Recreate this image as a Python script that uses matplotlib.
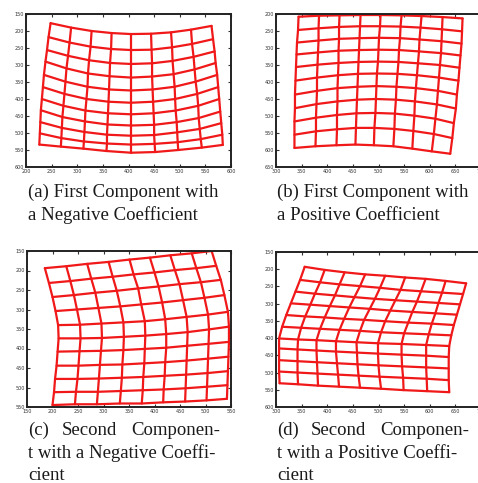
import matplotlib

matplotlib.use("Agg")
import matplotlib.pyplot as plt
import numpy as np

# node positions of the four warped grids (rows of 9 nodes, 11 rows)
a_x = [
    [248, 288, 328, 367, 405, 444, 483, 522, 562],
    [244, 285, 326, 366, 405, 445, 485, 524, 565],
    [241, 282, 323, 364, 405, 446, 486, 527, 568],
    [238, 279, 321, 363, 405, 446, 488, 529, 570],
    [235, 277, 320, 362, 405, 447, 490, 531, 573],
    [233, 275, 318, 361, 405, 448, 491, 534, 575],
    [231, 273, 316, 360, 405, 449, 492, 536, 577],
    [229, 271, 315, 359, 405, 450, 494, 537, 579],
    [228, 270, 314, 358, 405, 450, 495, 539, 581],
    [227, 269, 313, 358, 405, 451, 496, 541, 583],
    [226, 268, 312, 357, 405, 452, 497, 543, 584],
]
a_y = [
    [177, 190, 200, 206, 209, 208, 204, 196, 185],
    [218, 234, 246, 253, 256, 255, 248, 238, 224],
    [256, 273, 286, 294, 297, 295, 288, 276, 260],
    [290, 310, 325, 333, 337, 334, 327, 313, 294],
    [329, 349, 364, 372, 375, 372, 364, 349, 329],
    [365, 385, 400, 408, 411, 408, 400, 385, 365],
    [400, 420, 434, 442, 445, 442, 434, 420, 400],
    [433, 453, 466, 475, 478, 476, 468, 456, 437],
    [468, 485, 497, 505, 508, 506, 498, 488, 471],
    [501, 515, 525, 531, 534, 532, 527, 518, 505],
    [534, 540, 546, 553, 558, 556, 550, 543, 535],
]

b_x = [
    [344, 384, 424, 465, 504, 545, 584, 625, 664],
    [343, 383, 423, 464, 503, 543, 582, 624, 663],
    [341, 383, 423, 463, 501, 542, 580, 623, 662],
    [340, 382, 422, 462, 500, 540, 579, 622, 660],
    [339, 381, 422, 461, 499, 539, 577, 620, 658],
    [338, 380, 421, 460, 497, 537, 575, 618, 656],
    [337, 380, 420, 459, 496, 535, 573, 616, 653],
    [337, 379, 420, 458, 495, 534, 571, 614, 651],
    [336, 378, 419, 457, 494, 532, 570, 611, 647],
    [336, 378, 419, 456, 492, 531, 568, 608, 644],
    [336, 377, 418, 455, 491, 529, 566, 604, 640],
]
b_y = [
    [208, 205, 204, 203, 203, 204, 206, 209, 213],
    [247, 242, 238, 236, 236, 237, 240, 245, 251],
    [284, 278, 273, 271, 270, 271, 275, 280, 287],
    [319, 313, 308, 306, 305, 306, 310, 315, 322],
    [356, 349, 344, 341, 340, 341, 345, 350, 358],
    [396, 387, 380, 376, 375, 376, 380, 387, 396],
    [437, 426, 418, 414, 412, 414, 418, 426, 437],
    [477, 465, 457, 452, 450, 452, 457, 466, 478],
    [516, 505, 497, 492, 491, 493, 499, 508, 521],
    [555, 545, 539, 535, 535, 538, 544, 553, 565],
    [594, 589, 586, 584, 586, 589, 596, 604, 611],
]

c_x = [
    [185, 227, 268, 310, 351, 391, 431, 473, 512],
    [193, 235, 276, 318, 359, 400, 440, 482, 521],
    [200, 242, 284, 326, 368, 408, 449, 491, 530],
    [206, 248, 290, 333, 374, 415, 456, 498, 537],
    [211, 254, 296, 339, 381, 421, 463, 505, 544],
    [212, 255, 297, 340, 382, 423, 465, 507, 546],
    [210, 253, 295, 339, 381, 423, 464, 506, 546],
    [208, 251, 293, 337, 380, 421, 463, 505, 545],
    [205, 249, 291, 336, 378, 420, 462, 504, 544],
    [203, 246, 289, 334, 377, 418, 461, 503, 543],
    [200, 244, 287, 332, 375, 417, 460, 502, 542],
]
c_y = [
    [194, 189, 183, 178, 172, 167, 161, 156, 150],
    [232, 227, 221, 216, 210, 205, 199, 194, 188],
    [268, 263, 257, 252, 246, 241, 235, 230, 224],
    [304, 300, 296, 292, 287, 282, 276, 270, 263],
    [340, 339, 336, 333, 330, 325, 319, 313, 306],
    [374, 374, 373, 370, 367, 363, 358, 351, 344],
    [408, 407, 406, 404, 401, 398, 393, 388, 383],
    [444, 444, 442, 441, 438, 435, 431, 426, 421],
    [478, 478, 477, 475, 473, 470, 467, 463, 458],
    [512, 511, 511, 509, 507, 505, 502, 498, 494],
    [545, 543, 543, 541, 541, 538, 536, 533, 529],
]

d_x = [
    [356, 395, 434, 474, 513, 552, 592, 631, 671],
    [347, 386, 424, 464, 503, 543, 583, 624, 665],
    [338, 376, 415, 453, 493, 533, 575, 617, 659],
    [329, 367, 405, 443, 483, 523, 566, 611, 653],
    [320, 357, 395, 433, 472, 513, 558, 604, 647],
    [312, 349, 386, 424, 464, 505, 550, 598, 642],
    [306, 343, 379, 417, 457, 499, 545, 593, 638],
    [306, 342, 379, 417, 458, 499, 545, 593, 637],
    [306, 342, 380, 419, 459, 500, 546, 593, 637],
    [306, 342, 381, 421, 461, 502, 548, 594, 637],
    [307, 343, 382, 423, 464, 505, 549, 595, 638],
]
d_y = [
    [193, 202, 209, 215, 219, 224, 228, 234, 241],
    [231, 238, 244, 249, 254, 260, 264, 268, 272],
    [265, 271, 276, 281, 286, 290, 294, 298, 302],
    [299, 303, 307, 311, 315, 320, 324, 328, 332],
    [333, 337, 340, 344, 347, 351, 355, 358, 362],
    [367, 370, 373, 376, 379, 383, 386, 389, 392],
    [401, 404, 406, 409, 412, 415, 417, 420, 423],
    [430, 433, 436, 439, 442, 445, 448, 451, 455],
    [464, 467, 470, 473, 476, 479, 482, 485, 488],
    [497, 500, 503, 506, 509, 512, 515, 518, 522],
    [531, 534, 538, 541, 544, 547, 551, 554, 557],
]

# axis ticks of each panel
a_xticks = [200, 250, 300, 350, 400, 450, 500, 550, 600]
a_yticks = [150, 200, 250, 300, 350, 400, 450, 500, 550, 600]
b_xticks = [300, 350, 400, 450, 500, 550, 600, 650, 700]
b_yticks = [200, 250, 300, 350, 400, 450, 500, 550, 600, 650]
c_xticks = [150, 200, 250, 300, 350, 400, 450, 500, 550]
c_yticks = [150, 200, 250, 300, 350, 400, 450, 500, 550]
d_xticks = [300, 350, 400, 450, 500, 550, 600, 650, 700]
d_yticks = [150, 200, 250, 300, 350, 400, 450, 500, 550, 600]

W, H = 478, 483
fig = plt.figure(figsize=(W / 100, H / 100), dpi=100)


def add_axes(left, top, right, bottom):
    # pixel box -> figure fraction
    return fig.add_axes([left / W, 1 - bottom / H, (right - left) / W, (bottom - top) / H])


def draw_grid(ax, gx, gy, xticks, yticks):
    gx = np.array(gx)
    gy = np.array(gy)
    for i in range(gx.shape[0]):
        ax.plot(gx[i], gy[i], color="#f01818", lw=1.6, solid_capstyle="round")
    for j in range(gx.shape[1]):
        ax.plot(gx[:, j], gy[:, j], color="#f01818", lw=1.6, solid_capstyle="round")
    ax.set_xlim(xticks[0], xticks[-1])
    ax.set_ylim(yticks[-1], yticks[0])
    ax.set_xticks(xticks)
    ax.set_yticks(yticks)
    ax.tick_params(direction="in", length=2, width=0.8, labelsize=3.5, pad=1.5,
                   top=True, right=True, colors="#333333")
    for s in ax.spines.values():
        s.set_linewidth(1.4)
        s.set_color("#222222")


ax_a = add_axes(26, 14, 231, 167)
draw_grid(ax_a, a_x, a_y, a_xticks, a_yticks)
ax_b = add_axes(276, 14, 481, 167)
draw_grid(ax_b, b_x, b_y, b_xticks, b_yticks)
ax_c = add_axes(27, 251, 231, 407)
draw_grid(ax_c, c_x, c_y, c_xticks, c_yticks)
ax_d = add_axes(276, 252, 481, 407)
draw_grid(ax_d, d_x, d_y, d_xticks, d_yticks)

# captions (positions in pixels, baseline)
cap = dict(fontsize=13.5, family="Liberation Serif", va="baseline", color="#1a1a1a")


def put(x, y, s, ha="left"):
    fig.text(x / W, 1 - y / H, s, ha=ha, **cap)


put(28, 197, "(a) First Component with")
put(28, 220, "a Negative Coefficient")
put(277, 197, "(b) First Component with")
put(277, 220, "a Positive Coefficient")

for x0, tag, sign in [(28, "(c)", "Negative"), (277, "(d)", "Positive")]:
    put(x0, 435, tag)
    put(x0 + 61, 435, "Second", ha="center")
    put(x0 + 192, 435, "Componen-", ha="right")
    put(x0, 457.5, "t with a %s Coeffi-" % sign)
    put(x0, 480, "cient")

fig.savefig("out.png", dpi=100)
